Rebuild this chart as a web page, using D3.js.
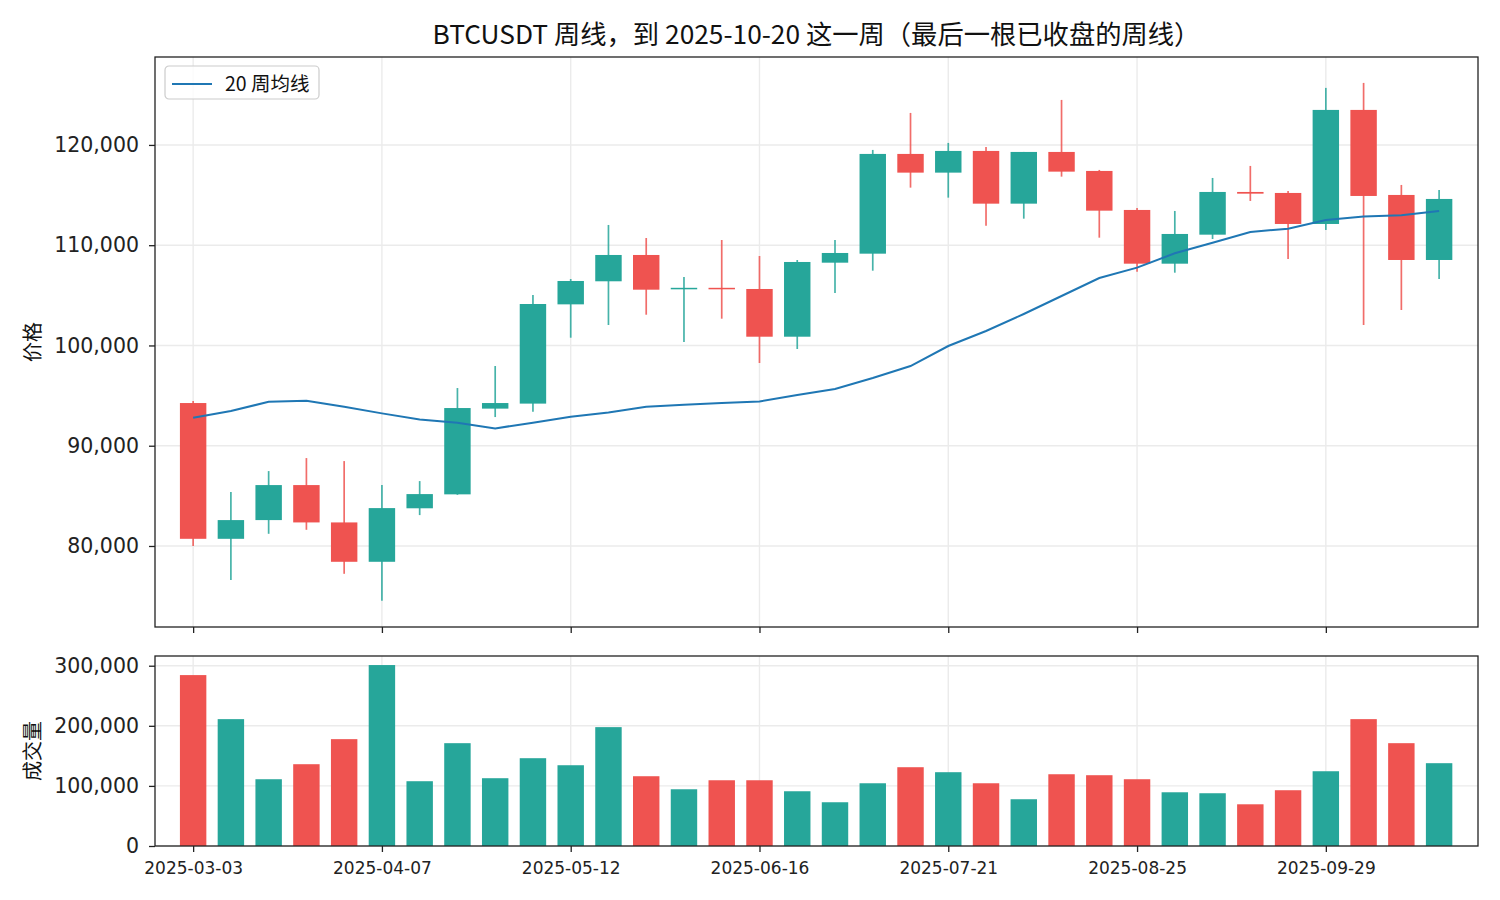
<!DOCTYPE html>
<html lang="zh">
<head>
<meta charset="UTF-8">
<title>BTCUSDT 周线</title>
<script src="https://cdn.jsdelivr.net/npm/d3@7/dist/d3.min.js"></script>
<style>
  body { margin: 0; background: #fff; }
  .tick text { fill: #222; }
</style>
</head>
<body>
<script>
// 周线数据
var dates = ["2025-03-03","2025-03-10","2025-03-17","2025-03-24","2025-03-31","2025-04-07","2025-04-14",
  "2025-04-21","2025-04-28","2025-05-05","2025-05-12","2025-05-19","2025-05-26","2025-06-02","2025-06-09",
  "2025-06-16","2025-06-23","2025-06-30","2025-07-07","2025-07-14","2025-07-21","2025-07-28","2025-08-04",
  "2025-08-11","2025-08-18","2025-08-25","2025-09-01","2025-09-08","2025-09-15","2025-09-22","2025-09-29",
  "2025-10-06","2025-10-13","2025-10-20"];
var open  = [94257, 80716, 82583, 86075, 82350, 78424, 83760, 85150, 93700, 94200, 104100, 106400, 109024, 105600, 105750,
  105632, 100873, 108256, 109155, 119102, 117237, 119401, 114143, 119301, 117406, 113515, 108156, 111050, 115310, 115210,
  112117, 123492, 115011, 108525];
var high  = [94450, 85376, 87472, 88769, 88470, 86075, 86473, 95754, 97949, 105033, 106630, 112018, 110720, 106830, 110520,
  108924, 108525, 110520, 119501, 123193, 120200, 119800, 119301, 124490, 117506, 113714, 113415, 116707, 117905, 115410,
  125688, 126186, 116009, 115510];
var low   = [80000, 76596, 81215, 81615, 77225, 74531, 83081, 85100, 92860, 93390, 100773, 102040, 103067, 100343, 102670,
  98248, 99645, 105233, 107458, 115740, 114742, 111948, 112646, 116837, 110750, 107358, 107258, 110620, 114412, 108625,
  111519, 102040, 103536, 106629];
var close = [80716, 82583, 86075, 82350, 78424, 83779, 85176, 93758, 94257, 104135, 106430, 109024, 105562, 105750, 105600,
  100873, 108326, 109224, 119102, 117237, 119401, 114143, 119301, 117336, 113445, 108156, 111120, 115310, 115140, 112117,
  123492, 114911, 108525, 114612];
var volume = [284400, 211100, 111100, 136100, 177800, 301100, 107800, 171100, 112800, 146100, 134400, 197800, 116100, 94400,
  109400, 109400, 91100, 72800, 104400, 131100, 122800, 104400, 77800, 119400, 117800, 111100, 89400, 87800, 69400, 92800,
  124400, 211100, 171100, 137800];
var ma20 = [92790, 93458, 94387, 94487, 93890, 93225, 92627, 92291, 91730, 92300, 92890, 93325, 93890, 94088, 94257,
  94420, 95055, 95650, 96750, 97950, 99945, 101440, 103140, 104933, 106730, 107760, 109194, 110250, 111320, 111650,
  112517, 112850, 112985, 113415];
var priceTicks = [80000, 90000, 100000, 110000, 120000];
var volumeTicks = [0, 100000, 200000, 300000];
var dateTicks = ["2025-03-03","2025-04-07","2025-05-12","2025-06-16","2025-07-21","2025-08-25","2025-09-29"];

var UP = "#26a69a", DOWN = "#ef5350", MA = "#1f77b4";
var CJK = "'Noto Sans CJK SC', sans-serif";
var NUM = "'DejaVu Sans', 'Noto Sans CJK SC', sans-serif";

var parse = d3.utcParse("%Y-%m-%d");
var data = dates.map(function (d, i) {
  return { date: parse(d), o: open[i], h: high[i], l: low[i], c: close[i], v: volume[i], ma: ma20[i] };
});

var width = 1500, height = 900;
var left = 155, right = 1478;
var pTop = 57, pBottom = 627;   // 价格面板
var vTop = 656, vBottom = 846;  // 成交量面板
var DAY = 864e5;

var svg = d3.select("body").append("svg")
  .attr("width", width).attr("height", height);

var x = d3.scaleUtc()
  .domain([new Date(data[0].date.getTime() - 7.07 * DAY), new Date(data[data.length - 1].date.getTime() + 7.21 * DAY)])
  .range([left, right]);
var yP = d3.scaleLinear().domain([71920, 128770]).range([pBottom, pTop]);
var yV = d3.scaleLinear().domain([0, 316170]).range([vBottom, vTop]);

var step = x(data[1].date) - x(data[0].date);
var bw = step * 0.7;
var tickDates = dateTicks.map(parse);
var isUp = function (d) { return d.c >= d.o; };

function grid(g, y, yTicks, top, bottom) {
  g.selectAll("line.gx").data(tickDates).enter().append("line")
    .attr("x1", function (d) { return x(d); }).attr("x2", function (d) { return x(d); })
    .attr("y1", top).attr("y2", bottom);
  g.selectAll("line.gy").data(yTicks).enter().append("line")
    .attr("x1", left).attr("x2", right)
    .attr("y1", function (d) { return y(d); }).attr("y2", function (d) { return y(d); });
  g.attr("stroke", "#ebebeb").attr("stroke-width", 1.4);
}

grid(svg.append("g"), yP, priceTicks, pTop, pBottom);
grid(svg.append("g"), yV, volumeTicks, vTop, vBottom);

// 蜡烛
var candles = svg.append("g").selectAll("g").data(data).enter().append("g");
candles.append("line")
  .attr("x1", function (d) { return x(d.date); }).attr("x2", function (d) { return x(d.date); })
  .attr("y1", function (d) { return yP(d.h); }).attr("y2", function (d) { return yP(d.l); })
  .attr("stroke", function (d) { return isUp(d) ? UP : DOWN; })
  .attr("stroke-width", 1.7).attr("stroke-opacity", 0.85);
candles.append("rect")
  .attr("x", function (d) { return x(d.date) - bw / 2; })
  .attr("width", bw)
  .attr("y", function (d) { return yP(Math.max(d.o, d.c)); })
  .attr("height", function (d) { return Math.max(1.5, Math.abs(yP(d.o) - yP(d.c))); })
  .attr("fill", function (d) { return isUp(d) ? UP : DOWN; });

// 20 周均线
svg.append("path").datum(data)
  .attr("fill", "none").attr("stroke", MA).attr("stroke-width", 2)
  .attr("d", d3.line().x(function (d) { return x(d.date); }).y(function (d) { return yP(d.ma); }));

// 成交量
svg.append("g").selectAll("rect").data(data).enter().append("rect")
  .attr("x", function (d) { return x(d.date) - bw / 2; })
  .attr("width", bw)
  .attr("y", function (d) { return yV(d.v); })
  .attr("height", function (d) { return yV(0) - yV(d.v); })
  .attr("fill", function (d) { return isUp(d) ? UP : DOWN; });

// 坐标轴
function styleAxis(g, size) {
  g.select(".domain").remove();
  g.selectAll(".tick line").attr("stroke", "#222").attr("stroke-width", 1.3);
  g.selectAll(".tick text").attr("font-family", NUM).attr("font-size", size);
}
var fmt = d3.format(",");
svg.append("g").attr("transform", "translate(" + left + ",0)")
  .call(d3.axisLeft(yP).tickValues(priceTicks).tickFormat(fmt).tickSize(6).tickPadding(10))
  .call(styleAxis, 20.5);
svg.append("g").attr("transform", "translate(" + left + ",0)")
  .call(d3.axisLeft(yV).tickValues(volumeTicks).tickFormat(fmt).tickSize(6).tickPadding(10))
  .call(styleAxis, 20.5);
svg.append("g").attr("transform", "translate(0," + pBottom + ")")
  .call(d3.axisBottom(x).tickValues(tickDates).tickFormat("").tickSize(6))
  .call(styleAxis, 17);
svg.append("g").attr("transform", "translate(0," + vBottom + ")")
  .call(d3.axisBottom(x).tickValues(tickDates).tickFormat(d3.utcFormat("%Y-%m-%d")).tickSize(6).tickPadding(10))
  .call(styleAxis, 17);

// 边框
[[pTop, pBottom], [vTop, vBottom]].forEach(function (p) {
  svg.append("rect").attr("x", left).attr("y", p[0])
    .attr("width", right - left).attr("height", p[1] - p[0])
    .attr("fill", "none").attr("stroke", "#222").attr("stroke-width", 1.3);
});

// 标题与轴标签
svg.append("text").attr("x", (left + right) / 2).attr("y", 44)
  .attr("text-anchor", "middle").attr("font-family", CJK).attr("font-size", 26.3).attr("fill", "#111")
  .text("BTCUSDT 周线，到 2025-10-20 这一周（最后一根已收盘的周线）");
svg.append("text").attr("transform", "translate(40," + (pTop + pBottom) / 2 + ") rotate(-90)")
  .attr("text-anchor", "middle").attr("font-family", CJK).attr("font-size", 20).attr("fill", "#111")
  .text("价格");
svg.append("text").attr("transform", "translate(40," + (vTop + vBottom) / 2 + ") rotate(-90)")
  .attr("text-anchor", "middle").attr("font-family", CJK).attr("font-size", 20).attr("fill", "#111")
  .text("成交量");

// 图例
var lg = svg.append("g").attr("transform", "translate(165,66)");
lg.append("rect").attr("width", 154).attr("height", 33).attr("rx", 4)
  .attr("fill", "#fff").attr("fill-opacity", 0.8).attr("stroke", "#cccccc").attr("stroke-width", 1.2);
lg.append("line").attr("x1", 7).attr("x2", 47).attr("y1", 18).attr("y2", 18)
  .attr("stroke", MA).attr("stroke-width", 2);
lg.append("text").attr("x", 60).attr("y", 18).attr("dy", "0.35em")
  .attr("font-family", CJK).attr("font-size", 19.5).attr("fill", "#111").text("20 周均线");
</script>
</body>
</html>
